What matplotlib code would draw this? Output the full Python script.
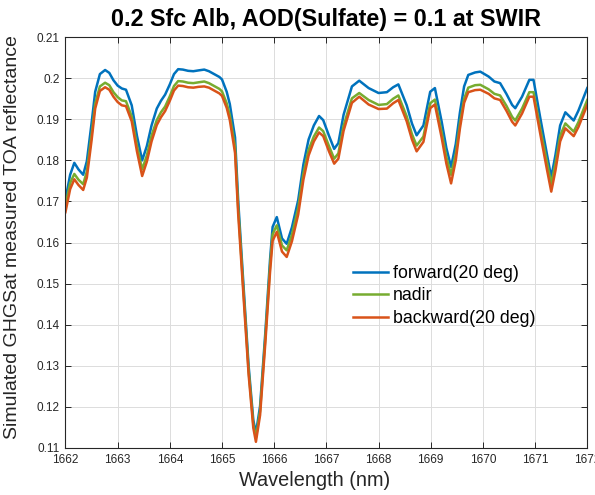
import numpy as np
import matplotlib
matplotlib.use('Agg')
import matplotlib.pyplot as plt
from matplotlib.ticker import FuncFormatter

# Longitudes de onda (nm) y reflectancias
wavelength = [1662.00, 1662.09, 1662.17, 1662.25, 1662.34, 1662.41, 1662.50, 1662.57, 1662.66, 1662.76,
              1662.84, 1662.92, 1663.00, 1663.08, 1663.16, 1663.27, 1663.37, 1663.47, 1663.56, 1663.65,
              1663.75, 1663.83, 1663.91, 1664.00, 1664.08, 1664.16, 1664.25, 1664.35, 1664.45, 1664.55,
              1664.66, 1664.75, 1664.85, 1664.95, 1665.00, 1665.09, 1665.15, 1665.25, 1665.31, 1665.41,
              1665.51, 1665.60, 1665.65, 1665.73, 1665.83, 1665.92, 1665.97, 1666.05, 1666.15, 1666.24,
              1666.34, 1666.46, 1666.56, 1666.66, 1666.76, 1666.86, 1666.94, 1667.05, 1667.15, 1667.23,
              1667.33, 1667.49, 1667.63, 1667.81, 1668.00, 1668.16, 1668.28, 1668.38, 1668.54, 1668.64,
              1668.73, 1668.86, 1668.99, 1669.08, 1669.21, 1669.30, 1669.39, 1669.48, 1669.56, 1669.64,
              1669.72, 1669.85, 1669.95, 1670.11, 1670.22, 1670.33, 1670.45, 1670.56, 1670.62, 1670.75,
              1670.89, 1670.97, 1671.10, 1671.23, 1671.31, 1671.39, 1671.48, 1671.58, 1671.74, 1671.83,
              1672.00]

forward = [0.1705, 0.1765, 0.1794, 0.1778, 0.1765, 0.1798, 0.1890, 0.1967, 0.2010, 0.2020,
           0.2013, 0.1995, 0.1982, 0.1975, 0.1972, 0.1934, 0.1860, 0.1800, 0.1835, 0.1885,
           0.1926, 0.1945, 0.1960, 0.1985, 0.2010, 0.2022, 0.2021, 0.2018, 0.2017, 0.2019,
           0.2021, 0.2017, 0.2010, 0.2003, 0.1997, 0.1967, 0.1937, 0.1856, 0.1703, 0.1500,
           0.1300, 0.1168, 0.1136, 0.1202, 0.1380, 0.1557, 0.1638, 0.1662, 0.1610, 0.1597,
           0.1637, 0.1703, 0.1790, 0.1851, 0.1885, 0.1908, 0.1898, 0.1860, 0.1828, 0.1842,
           0.1911, 0.1980, 0.1994, 0.1976, 0.1964, 0.1966, 0.1978, 0.1985, 0.1934, 0.1890,
           0.1861, 0.1885, 0.1967, 0.1976, 0.1894, 0.1830, 0.1784, 0.1840, 0.1917, 0.1980,
           0.2008, 0.2014, 0.2016, 0.2004, 0.1992, 0.1988, 0.1962, 0.1935, 0.1927, 0.1955,
           0.1996, 0.1996, 0.1903, 0.1813, 0.1759, 0.1813, 0.1885, 0.1917, 0.1897, 0.1921,
           0.1976]

nadir = [0.1690, 0.1745, 0.1767, 0.1753, 0.1742, 0.1773, 0.1862, 0.1938, 0.1980, 0.1989,
         0.1983, 0.1966, 0.1954, 0.1946, 0.1944, 0.1907, 0.1836, 0.1778, 0.1812, 0.1860,
         0.1898, 0.1917, 0.1931, 0.1956, 0.1981, 0.1993, 0.1992, 0.1989, 0.1988, 0.1990,
         0.1992, 0.1988, 0.1981, 0.1974, 0.1968, 0.1939, 0.1910, 0.1832, 0.1685, 0.1486,
         0.1289, 0.1158, 0.1125, 0.1190, 0.1367, 0.1541, 0.1620, 0.1642, 0.1593, 0.1581,
         0.1619, 0.1684, 0.1768, 0.1826, 0.1858, 0.1880, 0.1871, 0.1835, 0.1804, 0.1817,
         0.1884, 0.1951, 0.1964, 0.1947, 0.1935, 0.1937, 0.1950, 0.1958, 0.1907, 0.1864,
         0.1836, 0.1858, 0.1939, 0.1948, 0.1868, 0.1808, 0.1765, 0.1816, 0.1890, 0.1950,
         0.1977, 0.1983, 0.1984, 0.1973, 0.1962, 0.1958, 0.1933, 0.1906, 0.1897, 0.1926,
         0.1966, 0.1966, 0.1877, 0.1794, 0.1743, 0.1792, 0.1860, 0.1890, 0.1870, 0.1893,
         0.1947]

backward = [0.1674, 0.1730, 0.1754, 0.1740, 0.1728, 0.1758, 0.1848, 0.1926, 0.1969, 0.1978,
            0.1972, 0.1955, 0.1942, 0.1934, 0.1932, 0.1895, 0.1822, 0.1762, 0.1797, 0.1846,
            0.1886, 0.1905, 0.1920, 0.1945, 0.1970, 0.1982, 0.1981, 0.1978, 0.1977, 0.1979,
            0.1980, 0.1977, 0.1970, 0.1963, 0.1957, 0.1928, 0.1898, 0.1818, 0.1670, 0.1474,
            0.1279, 0.1149, 0.1115, 0.1180, 0.1355, 0.1527, 0.1604, 0.1626, 0.1578, 0.1565,
            0.1603, 0.1668, 0.1753, 0.1812, 0.1846, 0.1868, 0.1859, 0.1822, 0.1792, 0.1804,
            0.1872, 0.1940, 0.1955, 0.1936, 0.1925, 0.1926, 0.1939, 0.1947, 0.1895, 0.1851,
            0.1822, 0.1845, 0.1927, 0.1936, 0.1855, 0.1792, 0.1744, 0.1800, 0.1878, 0.1940,
            0.1966, 0.1971, 0.1972, 0.1962, 0.1951, 0.1947, 0.1921, 0.1894, 0.1885, 0.1914,
            0.1955, 0.1955, 0.1864, 0.1776, 0.1724, 0.1775, 0.1846, 0.1878, 0.1859, 0.1881,
            0.1935]

labels = ['forward(20 deg)', 'nadir', 'backward(20 deg)']
colors = ['#0072BD', '#77AC30', '#D95319']

plt.rcParams['font.family'] = ['Liberation Sans', 'DejaVu Sans']

fig = plt.figure(figsize=(5.95, 4.95), dpi=100)
ax = fig.add_axes([0.110, 0.095, 0.877, 0.830])

# Dibujar las tres curvas
for serie, lab, col in zip([forward, nadir, backward], labels, colors):
    ax.plot(wavelength, serie, color=col, linewidth=1.8, label=lab)

ax.set_xlim(1662, 1672)
ax.set_ylim(0.11, 0.21)
ax.set_xticks(np.arange(1662, 1673, 1))
ax.set_yticks(np.arange(0.11, 0.2101, 0.01))
ax.yaxis.set_major_formatter(FuncFormatter(lambda v, p: '%g' % round(v, 2)))

# Estilo tipo MATLAB
ax.grid(True, color='#dcdcdc', linewidth=0.7)
ax.set_axisbelow(True)
ax.tick_params(direction='in', top=True, right=True, length=4, width=0.7,
               labelsize=8.5, colors='#262626', pad=4)
for s in ax.spines.values():
    s.set_color('#262626')
    s.set_linewidth(0.8)

ax.set_xlabel('Wavelength (nm)', fontsize=14.3, color='#262626')
ax.xaxis.set_label_coords(0.477, -0.055)
ax.set_ylabel('Simulated GHGSat measured TOA reflectance', fontsize=14, color='#262626')
ax.yaxis.set_label_coords(-0.086, 0.513)
ax.set_title('0.2 Sfc Alb, AOD(Sulfate) = 0.1 at SWIR', fontsize=16.8, fontweight='bold', pad=8)

ax.legend(loc='center left', bbox_to_anchor=(0.551, 0.370), frameon=False, fontsize=12.8,
          borderaxespad=0, borderpad=0, handlelength=1.95, handletextpad=0.3, labelspacing=0.3)

fig.savefig('out.png', dpi=100)
